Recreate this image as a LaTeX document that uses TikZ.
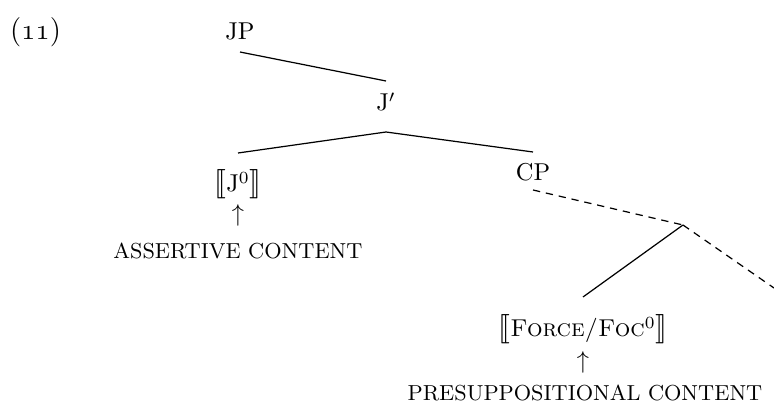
\documentclass[tikz,border=0pt]{standalone}
\usepackage{fontspec}
\usepackage{stmaryrd}
\newcommand{\lbb}{{\fontsize{12.5}{12.5}\selectfont$\llbracket$}}
\newcommand{\rbb}{{\fontsize{12.5}{12.5}\selectfont$\rrbracket$}}
\newcommand{\capslab}[1]{{\fontsize{8.9}{10}\selectfont #1}}
\begin{document}
\begin{tikzpicture}[x=0.41pt,y=-0.41pt,
  lab/.style={inner sep=0pt,outer sep=0pt,anchor=base},
  tn/.style={inner sep=0pt,outer sep=0pt,anchor=base},
  edge/.style={line width=0.5pt},
  dedge/.style={line width=0.5pt,dash pattern=on 3pt off 2.4pt}]
\useasboundingbox (0,0) rectangle (774,405);
\node[lab,anchor=base west] (ex) at (10,40) {\fontsize{12}{14}\selectfont(\textbf{\legacyoldstylenums{11}})};
\node[tn] (jp) at (240,40) {JP};
\node[tn] (jbar) at (386,111) {J$'$};
\node[tn] (j0) at (238,192) {\lbb J$^0$\rbb};
\node[lab] (a1) at (238,222) {$\uparrow$};
\node[lab] (assert) at (238,259) {\capslab{ASSERTIVE CONTENT}};
\node[tn] (cp) at (533,181) {CP};
\coordinate (br) at (683,225);
\coordinate (rt) at (774,288);
\node[tn] (force) at (583,337) {\lbb\textsc{Force/Foc}$^0$\rbb};
\node[lab] (a2) at (583,369) {$\uparrow$};
\node[lab] (presup) at (585,401) {\capslab{PRESUPPOSITIONAL CONTENT}};
\draw[edge] (jp.south |- 0,52) -- (jbar.north |- 0,81);
\draw[edge] (jbar.south |- 0,132) -- (j0.north |- 0,153);
\draw[edge] (jbar.south |- 0,132) -- (cp.north |- 0,152);
\draw[dedge] (cp.south |- 0,190) -- (br);
\draw[dedge] (br) -- (rt);
\draw[edge] (br) -- (force.north |- 0,297);
\end{tikzpicture}
\end{document}
